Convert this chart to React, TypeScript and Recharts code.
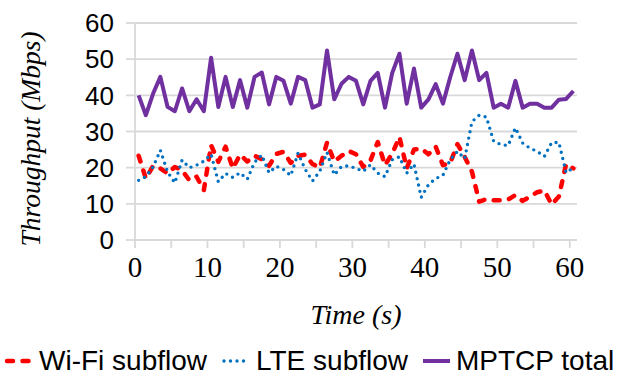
import React from 'react';
import { LineChart, Line, XAxis, YAxis, CartesianGrid, Legend } from 'recharts';

const times = [
  0.5, 1.5, 2.5, 3.5, 4.5, 5.5, 6.5, 7.5, 8.5, 9.5,
  10.5, 11.5, 12.5, 13.5, 14.5, 15.5, 16.5, 17.5, 18.5, 19.5,
  20.5, 21.5, 22.5, 23.5, 24.5, 25.5, 26.5, 27.5, 28.5, 29.5,
  30.5, 31.5, 32.5, 33.5, 34.5, 35.5, 36.5, 37.5, 38.5, 39.5,
  40.5, 41.5, 42.5, 43.5, 44.5, 45.5, 46.5, 47.5, 48.5, 49.5,
  50.5, 51.5, 52.5, 53.5, 54.5, 55.5, 56.5, 57.5, 58.5, 59.5, 60.5,
];

const wifi = [
  23.3, 17.0, 20.5, 19.8, 18.4, 20.2, 19.3, 16.5, 17.5, 13.8,
  26.2, 21.6, 25.8, 19.8, 23.6, 21.7, 23.3, 22.3, 20.5, 23.8,
  24.4, 21.3, 23.3, 23.6, 21.0, 20.0, 26.9, 21.7, 23.3, 24.6,
  23.7, 20.2, 22.0, 27.1, 20.7, 23.9, 28.5, 19.8, 25.0, 25.3,
  23.7, 25.8, 20.7, 21.3, 26.5, 23.0, 18.9, 10.6, 11.3, 11.0,
  11.0, 11.2, 12.4, 10.8, 12.0, 13.2, 13.7, 9.8, 12.0, 21.0, 19.8,
];

const lte = [
  16.5, 17.5, 20.2, 24.8, 18.8, 15.8, 22.1, 20.0, 20.7, 21.8,
  23.7, 16.1, 18.4, 17.3, 18.6, 16.8, 21.5, 23.5, 18.6, 20.4,
  19.5, 17.8, 24.0, 19.5, 16.3, 19.0, 24.2, 18.0, 20.3, 20.5,
  19.8, 19.0, 20.8, 18.5, 17.5, 22.2, 23.0, 18.5, 21.0, 11.8,
  15.3, 17.0, 17.9, 22.2, 24.5, 22.5, 32.7, 34.5, 34.0, 27.3,
  26.4, 26.1, 31.0, 26.8, 25.4, 24.5, 23.1, 26.9, 27.0, 18.6, 20.0,
];

const mptcp = [
  40.0, 34.5, 40.5, 45.1, 36.8, 35.6, 41.9, 35.6, 38.9, 35.6,
  50.4, 36.8, 45.1, 36.8, 44.2, 36.6, 45.1, 46.3, 37.5, 45.1,
  44.0, 37.7, 45.1, 44.2, 36.6, 37.5, 52.4, 38.9, 43.2, 45.1,
  44.0, 37.5, 44.0, 46.2, 36.6, 46.2, 51.5, 37.7, 47.4, 36.6,
  38.9, 43.1, 37.7, 45.0, 51.5, 44.2, 52.4, 44.2, 46.2, 36.6,
  37.7, 36.6, 44.0, 36.6, 37.7, 37.7, 36.6, 36.6, 38.8, 39.0, 41.2,
];

const xTicks = [0, 5, 10, 15, 20, 25, 30, 35, 40, 45, 50, 55, 60];
const yTicks = [0, 10, 20, 30, 40, 50, 60];

const seriesNames = ['Wi-Fi subflow', 'LTE subflow', 'MPTCP total'];

const data = times.map((t, i) => ({ t, wifi: wifi[i], lte: lte[i], mptcp: mptcp[i] }));

const GRID = '#D9D9D9';
const RED = '#FF0000';
const BLUE = '#0070C0';
const PURPLE = '#7030A0';

const YTitle = () => (
  <text
    x={30}
    y={139}
    transform="rotate(-90, 30, 139)"
    textAnchor="middle"
    dominantBaseline="central"
    fontFamily="Liberation Serif"
    fontStyle="italic"
    fontSize={27.5}
    fill="#000"
  >
    Throughput (Mbps)
  </text>
);

const XTitle = (props: any) => {
  const vb = props.viewBox || {};
  return (
    <text
      x={vb.x + vb.width / 2}
      y={vb.y + 84}
      textAnchor="middle"
      fontFamily="Liberation Serif"
      fontStyle="italic"
      fontSize={28}
      fill="#000"
    >
      Time (s)
    </text>
  );
};

const LegendContent = () => {
  const itemStyle: React.CSSProperties = {
    position: 'absolute',
    top: 0,
    height: 38,
    display: 'flex',
    alignItems: 'center',
    fontFamily: 'Liberation Sans',
    fontSize: 28,
    color: '#000',
    whiteSpace: 'nowrap',
  };
  return (
    <div style={{ position: 'relative', width: 629, height: 38 }}>
      <div style={{ ...itemStyle, left: 4 }}>
        <svg width={30} height={10} style={{ marginRight: 5 }}>
          <line x1={3} y1={5} x2={28} y2={5} stroke={RED} strokeWidth={4.5} strokeDasharray="6 9.5" strokeLinecap="round" />
        </svg>
        {seriesNames[0]}
      </div>
      <div style={{ ...itemStyle, left: 221 }}>
        <svg width={30} height={10} style={{ marginRight: 5 }}>
          <line x1={3} y1={5} x2={28} y2={5} stroke={BLUE} strokeWidth={3.4} strokeDasharray="0 6.5" strokeLinecap="round" />
        </svg>
        {seriesNames[1]}
      </div>
      <div style={{ ...itemStyle, left: 421 }}>
        <svg width={30} height={10} style={{ marginRight: 5 }}>
          <line x1={2} y1={5} x2={29} y2={5} stroke={PURPLE} strokeWidth={4} />
        </svg>
        {seriesNames[2]}
      </div>
    </div>
  );
};

export default function App() {
  return (
    <div style={{ position: 'absolute', left: 0, top: 0, width: 629, height: 378, background: '#fff' }}>
      <LineChart
        width={629}
        height={378}
        data={data}
        margin={{ top: 23, right: 52, bottom: 0, left: 0 }}
      >
        <CartesianGrid horizontal vertical={false} stroke={GRID} strokeWidth={1.8} />
        <XAxis
          dataKey="t"
          type="number"
          domain={[0, 61]}
          ticks={xTicks}
          interval={0}
          tickFormatter={(v: number) => (v % 10 === 0 ? String(v) : '')}
          height={138}
          axisLine={{ stroke: GRID, strokeWidth: 1.8 }}
          tickLine={{ stroke: GRID, strokeWidth: 1.8 }}
          tickSize={8}
          tickMargin={8}
          tick={{ fontFamily: 'Liberation Serif', fontSize: 29, fill: '#000' }}
          label={<XTitle />}
        />
        <YAxis
          domain={[0, 60]}
          ticks={yTicks}
          interval={0}
          width={135}
          axisLine={{ stroke: GRID, strokeWidth: 1.8 }}
          tickLine={{ stroke: GRID, strokeWidth: 1.8 }}
          tickSize={9}
          tickMargin={12}
          tick={{ fontFamily: 'Liberation Sans', fontSize: 26, fill: '#000' }}
          label={<YTitle />}
        />
        <Legend
          layout="horizontal"
          verticalAlign="middle"
          align="center"
          content={<LegendContent />}
          wrapperStyle={{ top: 342, left: 0, width: 629, height: 38 }}
        />
        <Line
          type="linear"
          dataKey="wifi"
          name={seriesNames[0]}
          stroke={RED}
          strokeWidth={4.5}
          strokeDasharray="6 9.5"
          strokeLinecap="round"
          strokeLinejoin="round"
          dot={false}
          activeDot={false}
          isAnimationActive={false}
        />
        <Line
          type="linear"
          dataKey="lte"
          name={seriesNames[1]}
          stroke={BLUE}
          strokeWidth={3.4}
          strokeDasharray="0 6.5"
          strokeLinecap="round"
          strokeLinejoin="round"
          dot={false}
          activeDot={false}
          isAnimationActive={false}
        />
        <Line
          type="linear"
          dataKey="mptcp"
          name={seriesNames[2]}
          stroke={PURPLE}
          strokeWidth={4}
          strokeLinejoin="round"
          dot={false}
          activeDot={false}
          isAnimationActive={false}
        />
      </LineChart>
    </div>
  );
}
